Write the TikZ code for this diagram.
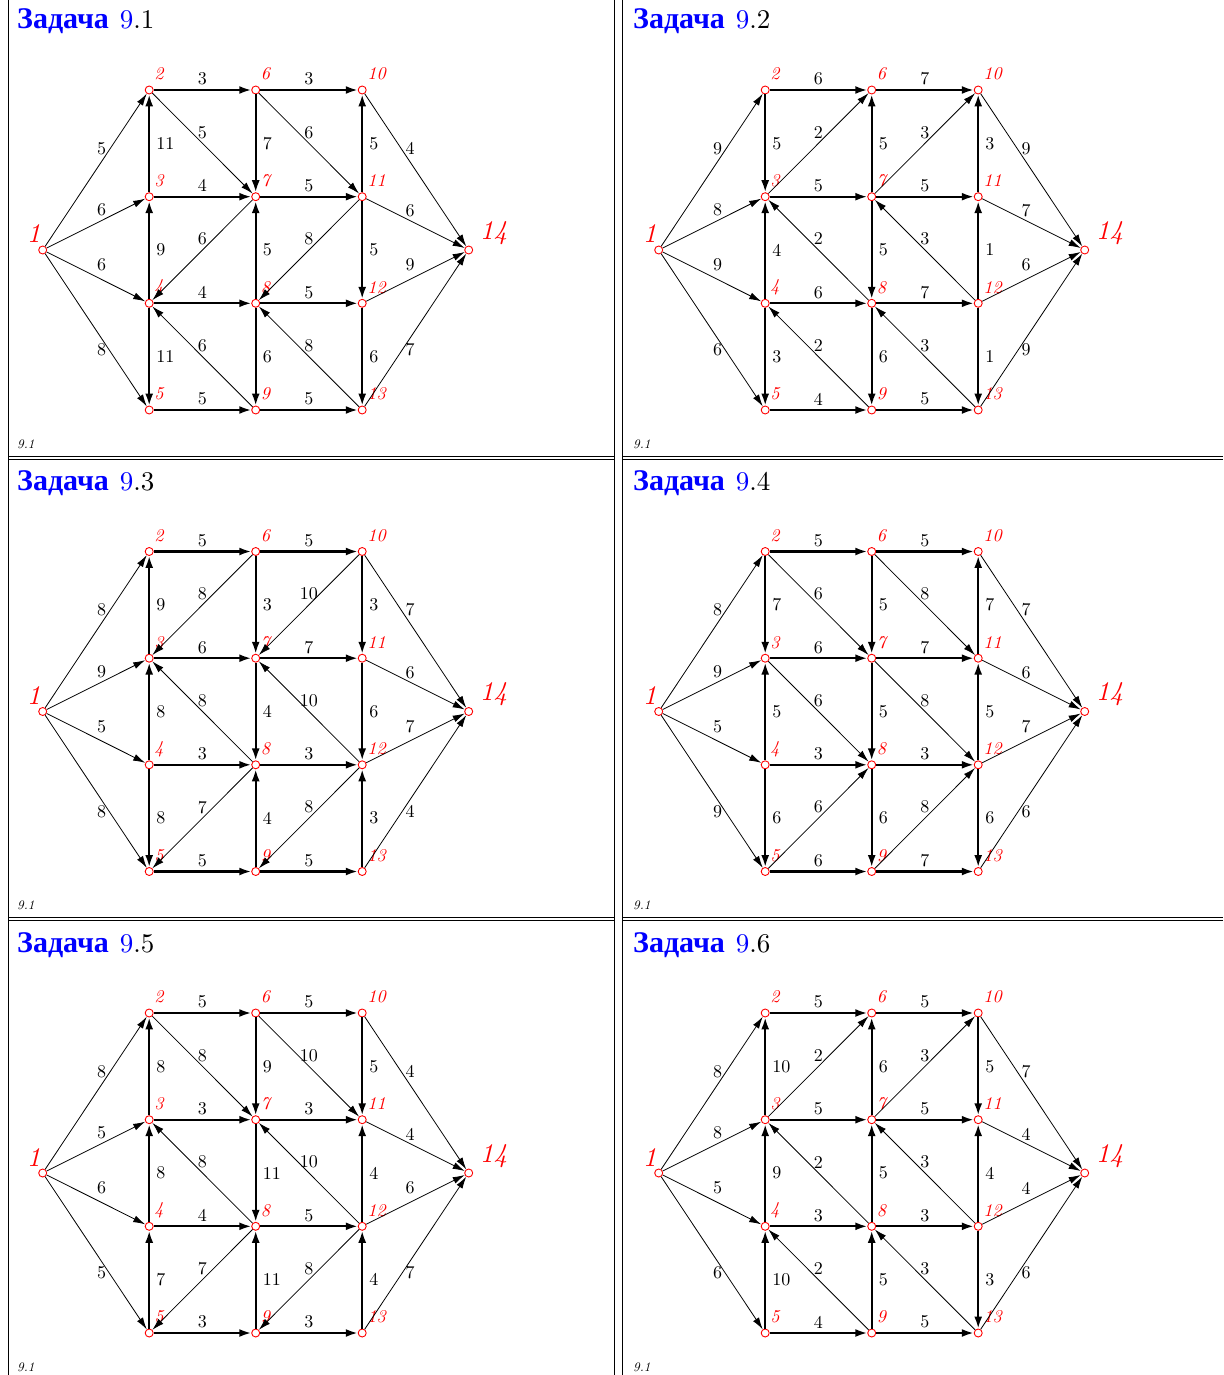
\documentclass[tikz,border=0pt]{standalone}
\usepackage{fontspec}
\newfontfamily\cyrfont{Liberation Serif}
\newfontfamily\labfont{lmroman10-regular}[Extension=.otf,ItalicFont=lmroman10-italic]
\usetikzlibrary{arrows.meta}
\definecolor{tblue}{RGB}{0,0,255}
\definecolor{nred}{RGB}{255,0,0}
\tikzset{
  vtx/.style={circle,draw=nred,fill=white,inner sep=0pt,minimum size=8pt,line width=0.9pt},
  hv/.style={line width=2.1pt,-{Latex[length=12pt,width=8pt]}},
  thn/.style={line width=0.8pt,-{Latex[length=12pt,width=7pt]}},
  elab/.style={font=\labfont\fontsize{18}{18}\selectfont,inner sep=0pt},
  nlab/.style={text=nred,font=\labfont\fontsize{18}{18}\selectfont\itshape,inner sep=0pt},
  blab/.style={text=nred,font=\labfont\fontsize{27}{27}\selectfont\itshape,inner sep=0pt},
  frame/.style={line width=1pt},
}
\newcommand\HE[3]{\draw[hv] (v#1) -- node[elab,yshift=11pt]{#3} (v#2);}
\newcommand\VE[3]{\draw[hv] (v#1) -- node[elab,anchor=west,xshift=6pt]{#3} (v#2);}
\newcommand\DE[3]{\draw[thn] (v#1) -- node[elab,yshift=11pt]{#3} (v#2);}
\newcommand\fanedges[8]{%
  \draw[thn] (v1) -- (v2); \draw[thn] (v1) -- (v3);
  \draw[thn] (v1) -- (v4); \draw[thn] (v1) -- (v5);
  \draw[thn] (v10) -- (v14); \draw[thn] (v11) -- (v14);
  \draw[thn] (v12) -- (v14); \draw[thn] (v13) -- (v14);
  \node[elab] (fa) at (101.7,148.3) {#1};
  \node[elab] (fb) at (101.7,210) {#2};
  \node[elab] (fc) at (101.7,265) {#3};
  \node[elab] (fd) at (101.7,350) {#4};
  \node[elab] (fe) at (410,148.3) {#5};
  \node[elab] (ff) at (410,211) {#6};
  \node[elab] (fg) at (410,265) {#7};
  \node[elab] (fh) at (410,350) {#8};
}
\newcommand\basegraph[1]{%
  \node[anchor=base west,inner sep=0pt] (title) at (17,29)
    {{\fontsize{30}{30}\selectfont\cyrfont\bfseries\color{tblue}Задача}\hspace{11pt}{\labfont\fontsize{27}{27}\selectfont\color{tblue}9}{\labfont\fontsize{27}{27}\selectfont.#1}};
  \node[anchor=base west,inner sep=0pt,font=\labfont\fontsize{13}{13}\selectfont\itshape] (foot) at (17,448) {9.1};
  \node[vtx] (v1) at (42.7,250) {};
  \node[vtx] (v2) at (149.2,90) {};
  \node[vtx] (v3) at (149.2,196.7) {};
  \node[vtx] (v4) at (149.2,303.3) {};
  \node[vtx] (v5) at (149.2,410) {};
  \node[vtx] (v6) at (255.7,90) {};
  \node[vtx] (v7) at (255.7,196.7) {};
  \node[vtx] (v8) at (255.7,303.3) {};
  \node[vtx] (v9) at (255.7,410) {};
  \node[vtx] (v10) at (362.2,90) {};
  \node[vtx] (v11) at (362.2,196.7) {};
  \node[vtx] (v12) at (362.2,303.3) {};
  \node[vtx] (v13) at (362.2,410) {};
  \node[vtx] (v14) at (468.7,250) {};
  \foreach \i in {2,...,13} {\node[nlab,anchor=west] (t\i) at ([xshift=5pt,yshift=16pt]v\i.center) {\i};}
  \node[blab] (t1) at ([xshift=-9pt,yshift=16pt]v1.center) {1};
  \node[blab,anchor=west] (t14) at ([xshift=11pt,yshift=17pt]v14.center) {14};
}
\begin{document}
\begin{tikzpicture}[x=1pt,y=-1pt]
\useasboundingbox[fill=white] (0,0) rectangle (1223,1375);
% frames
\draw[frame] (8,0) -- (8,1375);
\draw[frame] (614.5,0) -- (614.5,1375);
\draw[frame] (622.5,0) -- (622.5,1375);
\draw[frame] (8,456) -- (614.5,456);
\draw[frame] (8,459) -- (614.5,459);
\draw[frame] (622.5,456) -- (1223,456);
\draw[frame] (622.5,459) -- (1223,459);
\draw[frame] (8,917.5) -- (614.5,917.5);
\draw[frame] (8,920.5) -- (614.5,920.5);
\draw[frame] (622.5,917.5) -- (1223,917.5);
\draw[frame] (622.5,920.5) -- (1223,920.5);

% ---------- 9.1 ----------
\begin{scope}[shift={(0,0)},name prefix=A-]
\basegraph{1}
\fanedges{5}{6}{6}{8}{4}{6}{9}{7}
\HE{2}{6}{3} \HE{6}{10}{3} \HE{3}{7}{4} \HE{7}{11}{5}
\HE{4}{8}{4} \HE{8}{12}{5} \HE{5}{9}{5} \HE{9}{13}{5}
\VE{3}{2}{11} \VE{4}{3}{9} \VE{4}{5}{11}
\VE{6}{7}{7} \VE{8}{7}{5} \VE{8}{9}{6}
\VE{11}{10}{5} \VE{11}{12}{5} \VE{12}{13}{6}
\DE{2}{7}{5} \DE{7}{4}{6} \DE{9}{4}{6}
\DE{6}{11}{6} \DE{11}{8}{8} \DE{13}{8}{8}
\end{scope}

% ---------- 9.2 ----------
\begin{scope}[shift={(616,0)},name prefix=B-]
\basegraph{2}
\fanedges{9}{8}{9}{6}{9}{7}{6}{9}
\HE{2}{6}{6} \HE{6}{10}{7} \HE{3}{7}{5} \HE{7}{11}{5}
\HE{4}{8}{6} \HE{8}{12}{7} \HE{5}{9}{4} \HE{9}{13}{5}
\VE{2}{3}{5} \VE{4}{3}{4} \VE{4}{5}{3}
\VE{7}{6}{5} \VE{7}{8}{5} \VE{8}{9}{6}
\VE{11}{10}{3} \VE{12}{11}{1} \VE{12}{13}{1}
\DE{3}{6}{2} \DE{8}{3}{2} \DE{9}{4}{2}
\DE{7}{10}{3} \DE{12}{7}{3} \DE{13}{8}{3}
\end{scope}

% ---------- 9.3 ----------
\begin{scope}[shift={(0,461.5)},name prefix=C-]
\basegraph{3}
\fanedges{8}{9}{5}{8}{7}{6}{7}{4}
\HE{2}{6}{5} \HE{6}{10}{5} \HE{3}{7}{6} \HE{7}{11}{7}
\HE{4}{8}{3} \HE{8}{12}{3} \HE{5}{9}{5} \HE{9}{13}{5}
\VE{3}{2}{9} \VE{4}{3}{8} \VE{4}{5}{8}
\VE{6}{7}{3} \VE{7}{8}{4} \VE{9}{8}{4}
\VE{10}{11}{3} \VE{11}{12}{6} \VE{13}{12}{3}
\DE{6}{3}{8} \DE{8}{3}{8} \DE{8}{5}{7}
\DE{10}{7}{10} \DE{12}{7}{10} \DE{12}{9}{8}
\end{scope}

% ---------- 9.4 ----------
\begin{scope}[shift={(616,461.5)},name prefix=D-]
\basegraph{4}
\fanedges{8}{9}{5}{9}{7}{6}{7}{6}
\HE{2}{6}{5} \HE{6}{10}{5} \HE{3}{7}{6} \HE{7}{11}{7}
\HE{4}{8}{3} \HE{8}{12}{3} \HE{5}{9}{6} \HE{9}{13}{7}
\VE{2}{3}{7} \VE{4}{3}{5} \VE{4}{5}{6}
\VE{6}{7}{5} \VE{7}{8}{5} \VE{8}{9}{6}
\VE{11}{10}{7} \VE{12}{11}{5} \VE{12}{13}{6}
\DE{2}{7}{6} \DE{3}{8}{6} \DE{5}{8}{6}
\DE{6}{11}{8} \DE{7}{12}{8} \DE{9}{12}{8}
\end{scope}

% ---------- 9.5 ----------
\begin{scope}[shift={(0,923)},name prefix=E-]
\basegraph{5}
\fanedges{8}{5}{6}{5}{4}{4}{6}{7}
\HE{2}{6}{5} \HE{6}{10}{5} \HE{3}{7}{3} \HE{7}{11}{3}
\HE{4}{8}{4} \HE{8}{12}{5} \HE{5}{9}{3} \HE{9}{13}{3}
\VE{3}{2}{8} \VE{4}{3}{8} \VE{5}{4}{7}
\VE{6}{7}{9} \VE{7}{8}{11} \VE{9}{8}{11}
\VE{10}{11}{5} \VE{12}{11}{4} \VE{13}{12}{4}
\DE{2}{7}{8} \DE{8}{3}{8} \DE{8}{5}{7}
\DE{6}{11}{10} \DE{12}{7}{10} \DE{12}{9}{8}
\end{scope}

% ---------- 9.6 ----------
\begin{scope}[shift={(616,923)},name prefix=F-]
\basegraph{6}
\fanedges{8}{8}{5}{6}{7}{4}{4}{6}
\HE{2}{6}{5} \HE{6}{10}{5} \HE{3}{7}{5} \HE{7}{11}{5}
\HE{4}{8}{3} \HE{8}{12}{3} \HE{5}{9}{4} \HE{9}{13}{5}
\VE{3}{2}{10} \VE{4}{3}{9} \VE{5}{4}{10}
\VE{7}{6}{6} \VE{8}{7}{5} \VE{9}{8}{5}
\VE{10}{11}{5} \VE{12}{11}{4} \VE{12}{13}{3}
\DE{3}{6}{2} \DE{8}{3}{2} \DE{9}{4}{2}
\DE{7}{10}{3} \DE{12}{7}{3} \DE{13}{8}{3}
\end{scope}
\end{tikzpicture}
\end{document}
